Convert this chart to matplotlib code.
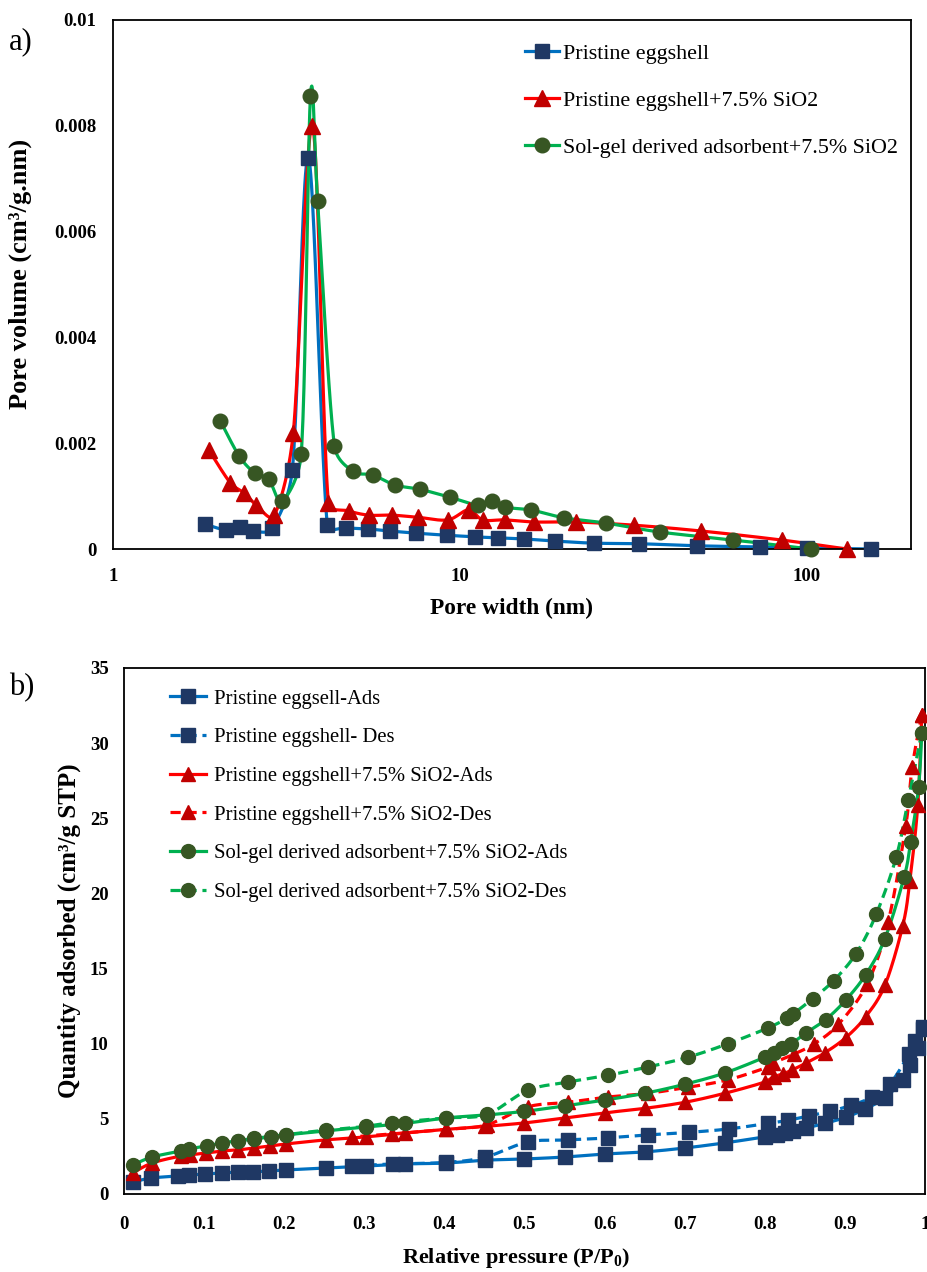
import numpy as np
import matplotlib
matplotlib.use("Agg")
import matplotlib.pyplot as plt
from matplotlib.lines import Line2D

plt.rcParams['font.family'] = ['Liberation Serif', 'DejaVu Serif']
plt.rcParams['mathtext.fontset'] = 'custom'
plt.rcParams['mathtext.rm'] = 'Liberation Serif'
plt.rcParams['mathtext.bf'] = 'Liberation Serif:bold'

# ---------------- data: (a) pore size distribution ----------------
pe_x = [1.84, 2.12, 2.33, 2.54, 2.88, 3.29, 3.66, 4.15, 4.71, 5.42, 6.28, 7.46, 9.17,
        11.05, 12.9, 15.3, 18.8, 24.4, 32.9, 48.4, 73.6, 100, 153]
pe_y = [0.00047, 0.00036, 0.00042, 0.00034, 0.00040, 0.0015, 0.0074, 0.00045, 0.00040,
        0.00038, 0.00034, 0.00030, 0.00026, 0.00023, 0.00021, 0.00019, 0.00015, 0.00011,
        0.00010, 0.00006, 0.00004, 0.00002, 0.0]
pes_x = [1.89, 2.18, 2.39, 2.59, 2.92, 3.31, 3.76, 4.18, 4.78, 5.46, 6.36, 7.56, 9.23,
         10.6, 11.65, 13.5, 16.4, 21.6, 31.8, 49.7, 84.7, 130.5]
pes_y = [0.00187, 0.00125, 0.00106, 0.00083, 0.00064, 0.0022, 0.0080, 0.00087, 0.00072,
         0.00064, 0.00064, 0.00060, 0.00055, 0.00074, 0.00055, 0.00055, 0.00051, 0.00051,
         0.00045, 0.00034, 0.00017, 0.0]
sg_x = [2.04, 2.31, 2.56, 2.81, 3.08, 3.49, 3.71, 3.89, 4.35, 4.91, 5.61, 6.49, 7.66,
        9.35, 11.3, 12.4, 13.5, 16.0, 20.0, 26.4, 37.8, 61.5, 102.7]
sg_y = [0.00242, 0.00176, 0.00144, 0.00132, 0.00091, 0.0018, 0.00856, 0.00658, 0.00195,
        0.00147, 0.00140, 0.00121, 0.00113, 0.00098, 0.00083, 0.00091, 0.00079, 0.00074,
        0.00059, 0.00049, 0.00032, 0.00017, 0.0]
labels_a = ["Pristine eggshell", "Pristine eggshell+7.5% SiO2",
            "Sol-gel derived adsorbent+7.5% SiO2"]

# ---------------- data: (b) isotherms ----------------
pe_ads_p = [0.011, 0.034, 0.067, 0.081, 0.101, 0.122, 0.142, 0.161, 0.181, 0.202, 0.252,
            0.302, 0.351, 0.402, 0.451, 0.5, 0.55, 0.6, 0.65, 0.7, 0.75, 0.8, 0.815, 0.825,
            0.835, 0.852, 0.875, 0.901, 0.925, 0.95, 0.972, 0.981, 0.991, 0.997]
pe_ads_q = [0.8, 1.06, 1.2, 1.26, 1.33, 1.4, 1.46, 1.48, 1.53, 1.6, 1.73, 1.86, 2.0, 2.06,
            2.25, 2.33, 2.46, 2.66, 2.8, 3.06, 3.4, 3.8, 3.93, 4.06, 4.2, 4.4, 4.7, 5.1,
            5.65, 6.4, 7.6, 8.6, 9.7, 11.0]
pe_des_p = [0.997, 0.988, 0.98, 0.956, 0.934, 0.908, 0.881, 0.855, 0.829, 0.804, 0.755,
            0.705, 0.654, 0.604, 0.554, 0.504, 0.451, 0.402, 0.336, 0.285]
pe_des_q = [11.1, 10.2, 9.3, 7.3, 6.45, 5.9, 5.5, 5.2, 4.9, 4.7, 4.33, 4.1, 3.93, 3.73,
            3.6, 3.46, 2.45, 2.1, 2.0, 1.86]

pes_ads_p = [0.011, 0.035, 0.071, 0.082, 0.102, 0.122, 0.142, 0.162, 0.182, 0.202, 0.252,
             0.302, 0.351, 0.402, 0.451, 0.5, 0.55, 0.6, 0.65, 0.7, 0.75, 0.8, 0.811,
             0.823, 0.834, 0.851, 0.875, 0.901, 0.926, 0.95, 0.972, 0.981, 0.991, 0.996]
pes_ads_q = [1.4, 2.06, 2.53, 2.6, 2.73, 2.86, 2.93, 3.06, 3.2, 3.33, 3.6, 3.8, 4.06, 4.3,
             4.5, 4.73, 5.06, 5.4, 5.7, 6.1, 6.7, 7.45, 7.8, 8.0, 8.25, 8.7, 9.4, 10.4,
             11.8, 13.9, 17.8, 20.8, 25.9, 31.9]
pes_des_p = [0.996, 0.984, 0.976, 0.954, 0.928, 0.892, 0.862, 0.836, 0.81, 0.804, 0.754,
             0.704, 0.654, 0.604, 0.554, 0.504, 0.453, 0.402, 0.335, 0.285]
pes_des_q = [31.9, 28.4, 24.5, 18.1, 14.0, 11.3, 10.0, 9.3, 8.7, 8.45, 7.6, 7.1, 6.7,
             6.45, 6.1, 5.8, 4.6, 4.3, 4.0, 3.8]

sg_ads_p = [0.011, 0.035, 0.071, 0.081, 0.104, 0.122, 0.142, 0.162, 0.183, 0.202, 0.252,
            0.302, 0.351, 0.402, 0.453, 0.5, 0.55, 0.6, 0.65, 0.7, 0.75, 0.8, 0.811, 0.822,
            0.833, 0.851, 0.876, 0.901, 0.926, 0.95, 0.974, 0.982, 0.992, 0.996]
sg_ads_q = [1.93, 2.46, 2.86, 3.0, 3.2, 3.4, 3.53, 3.66, 3.8, 3.93, 4.2, 4.46, 4.7, 5.06,
            5.26, 5.5, 5.86, 6.25, 6.7, 7.3, 8.05, 9.1, 9.4, 9.7, 10.0, 10.7, 11.6, 12.9,
            14.6, 17.0, 21.1, 23.4, 27.1, 30.7]
sg_des_p = [0.996, 0.979, 0.964, 0.939, 0.914, 0.886, 0.86, 0.835, 0.828, 0.804, 0.754,
            0.704, 0.654, 0.604, 0.554, 0.504, 0.453, 0.402, 0.335, 0.302, 0.252, 0.202,
            0.162, 0.142]
sg_des_q = [30.7, 26.2, 22.4, 18.6, 16.0, 14.2, 13.0, 11.97, 11.7, 11.05, 10.0, 9.1, 8.45,
            7.9, 7.45, 6.9, 5.3, 5.06, 4.75, 4.5, 4.25, 3.95, 3.7, 3.55]
labels_b = ["Pristine eggsell-Ads", "Pristine eggshell- Des",
            "Pristine eggshell+7.5% SiO2-Ads", "Pristine eggshell+7.5% SiO2-Des",
            "Sol-gel derived adsorbent+7.5% SiO2-Ads",
            "Sol-gel derived adsorbent+7.5% SiO2-Des"]

# ---------------- styles ----------------
BLUE_L, BLUE_M = '#0070C0', '#1F3864'
RED_L, RED_M = '#FF0000', '#C00000'
GRN_L, GRN_M = '#00B050', '#375623'
LW = 2.3
DASH = (3.2, 1.8)


def excel_smooth(u, w, n=24, k=0.45):
    pts = np.column_stack([u, w]).astype(float)
    out = [pts[0]]
    t = np.linspace(0, 1, n)[1:]
    for i in range(len(pts) - 1):
        p0 = pts[i - 1] if i > 0 else pts[i]
        p1, p2 = pts[i], pts[i + 1]
        p3 = pts[i + 2] if i + 2 < len(pts) else pts[i + 1]
        seglen = np.hypot(*(p2 - p1))
        o1 = (p2 - p0) / 6.0
        o2 = (p3 - p1) / 6.0
        for o in (o1, o2):
            L = np.hypot(*o)
            if L > k * seglen and L > 0:
                o *= k * seglen / L
        c1 = p1 + o1
        c2 = p2 - o2
        seg = (((1 - t) ** 3)[:, None] * p1 + (3 * (1 - t) ** 2 * t)[:, None] * c1
               + (3 * (1 - t) * t ** 2)[:, None] * c2 + (t ** 3)[:, None] * p2)
        out.extend(seg)
    return np.array(out)


fig = plt.figure(figsize=(9.28, 12.72), dpi=100)

# ================= (a) =================
axa = fig.add_axes([113 / 928, 1 - 549 / 1272, (911 - 113) / 928, (549 - 20) / 1272])
axa.set_xscale('log')
axa.set_xlim(1, 200)
axa.set_ylim(0, 0.01)

KX, KY = 346.0, 52900.0
series_a = [(pe_x, pe_y, BLUE_L, BLUE_M, 's', 10),
            (pes_x, pes_y, RED_L, RED_M, '^', 11),
            (sg_x, sg_y, GRN_L, GRN_M, 'o', 10.5)]
handles_a = []
for (xs, ys, lc, mc, mk, ms), lab in zip(series_a, labels_a):
    sm = excel_smooth(np.log10(xs) * KX, np.array(ys) * KY)
    axa.plot(10 ** (sm[:, 0] / KX), sm[:, 1] / KY, color=lc, lw=LW, zorder=2)
    axa.plot(xs, ys, ls='none', marker=mk, ms=ms, mfc=mc, mec=mc, zorder=3, clip_on=False)
    handles_a.append(Line2D([], [], color=lc, lw=LW, marker=mk, ms=ms, mfc=mc, mec=mc))

axa.set_xticks([1, 10, 100])
axa.set_xticklabels(['1', '10', '100'])
axa.xaxis.set_minor_locator(matplotlib.ticker.NullLocator())
axa.set_yticks([0, 0.002, 0.004, 0.006, 0.008, 0.01])
axa.set_yticklabels(['0', '0.002', '0.004', '0.006', '0.008', '0.01'])
axa.tick_params(axis='both', length=0, labelsize=13.5)
axa.tick_params(axis='x', pad=14)
axa.tick_params(axis='y', pad=12)
for lbl in axa.get_xticklabels() + axa.get_yticklabels():
    lbl.set_fontweight('bold')
for sp in axa.spines.values():
    sp.set_linewidth(1.3)
axa.set_xlabel('Pore width (nm)', fontsize=16.8, fontweight='bold')
axa.xaxis.set_label_coords(0.5, -0.093)
axa.set_ylabel('Pore volume (cm³/g.nm)', fontsize=19, fontweight='bold')
axa.yaxis.set_label_coords(-0.102, 0.52)
axa.legend(handles_a, labels_a, loc='upper left', bbox_to_anchor=(0.516, 0.955),
           frameon=False, fontsize=15.8, handlelength=1.57, handletextpad=0.15,
           labelspacing=1.2, borderpad=0, borderaxespad=0)
fig.text(9 / 928, 1 - 42 / 1272, 'a)', fontsize=22, va='center', ha='left')

# ================= (b) =================
axb = fig.add_axes([124 / 928, 1 - 1194 / 1272, (925 - 124) / 928, (1194 - 668) / 1272])
axb.set_xlim(0, 1)
axb.set_ylim(0, 35)

series_b = [(pe_ads_p, pe_ads_q, BLUE_L, BLUE_M, 's', 9.5, '-'),
            (pe_des_p, pe_des_q, BLUE_L, BLUE_M, 's', 9.5, '--'),
            (pes_ads_p, pes_ads_q, RED_L, RED_M, '^', 10, '-'),
            (pes_des_p, pes_des_q, RED_L, RED_M, '^', 10, '--'),
            (sg_ads_p, sg_ads_q, GRN_L, GRN_M, 'o', 10, '-'),
            (sg_des_p, sg_des_q, GRN_L, GRN_M, 'o', 10, '--')]
PX, PY = 801.0, 15.03
handles_b = []
for (xs, ys, lc, mc, mk, ms, ls), lab in zip(series_b, labels_b):
    sm = excel_smooth(np.array(xs) * PX, np.array(ys) * PY)
    ln, = axb.plot(sm[:, 0] / PX, sm[:, 1] / PY, color=lc, lw=LW, ls=ls, zorder=2)
    if ls == '--':
        ln.set_dashes(DASH)
    axb.plot(xs, ys, ls='none', marker=mk, ms=ms, mfc=mc, mec=mc, zorder=3, clip_on=False)
    h = Line2D([], [], color=lc, lw=LW, ls=ls, marker=mk, ms=ms, mfc=mc, mec=mc)
    if ls == '--':
        h.set_dashes(DASH)
    handles_b.append(h)

axb.set_xticks(np.arange(0, 1.01, 0.1))
axb.set_xticklabels(['0', '0.1', '0.2', '0.3', '0.4', '0.5', '0.6', '0.7', '0.8', '0.9', '1'])
axb.set_yticks(np.arange(0, 36, 5))
axb.tick_params(axis='both', length=0, labelsize=13.5)
axb.tick_params(axis='x', pad=16)
axb.tick_params(axis='y', pad=11)
for lbl in axb.get_xticklabels() + axb.get_yticklabels():
    lbl.set_fontweight('bold')
for sp in axb.spines.values():
    sp.set_linewidth(1.3)
axb.set_xlabel(r'Relative pressure (P/P$_\mathbf{0}$)', fontsize=16, fontweight='bold')
axb.xaxis.set_label_coords(0.49, -0.098)
axb.set_ylabel('Quantity adsorbed (cm³/g STP)', fontsize=18, fontweight='bold')
axb.yaxis.set_label_coords(-0.054, 0.5)
axb.legend(handles_b, labels_b, loc='upper left', bbox_to_anchor=(0.057, 0.96),
           frameon=False, fontsize=14.9, handlelength=1.75, handletextpad=0.4,
           labelspacing=0.93, borderpad=0, borderaxespad=0)
fig.text(9 / 928, 1 - 688 / 1272, 'b)', fontsize=22, va='center', ha='left')

fig.savefig('out.png', dpi=100)
